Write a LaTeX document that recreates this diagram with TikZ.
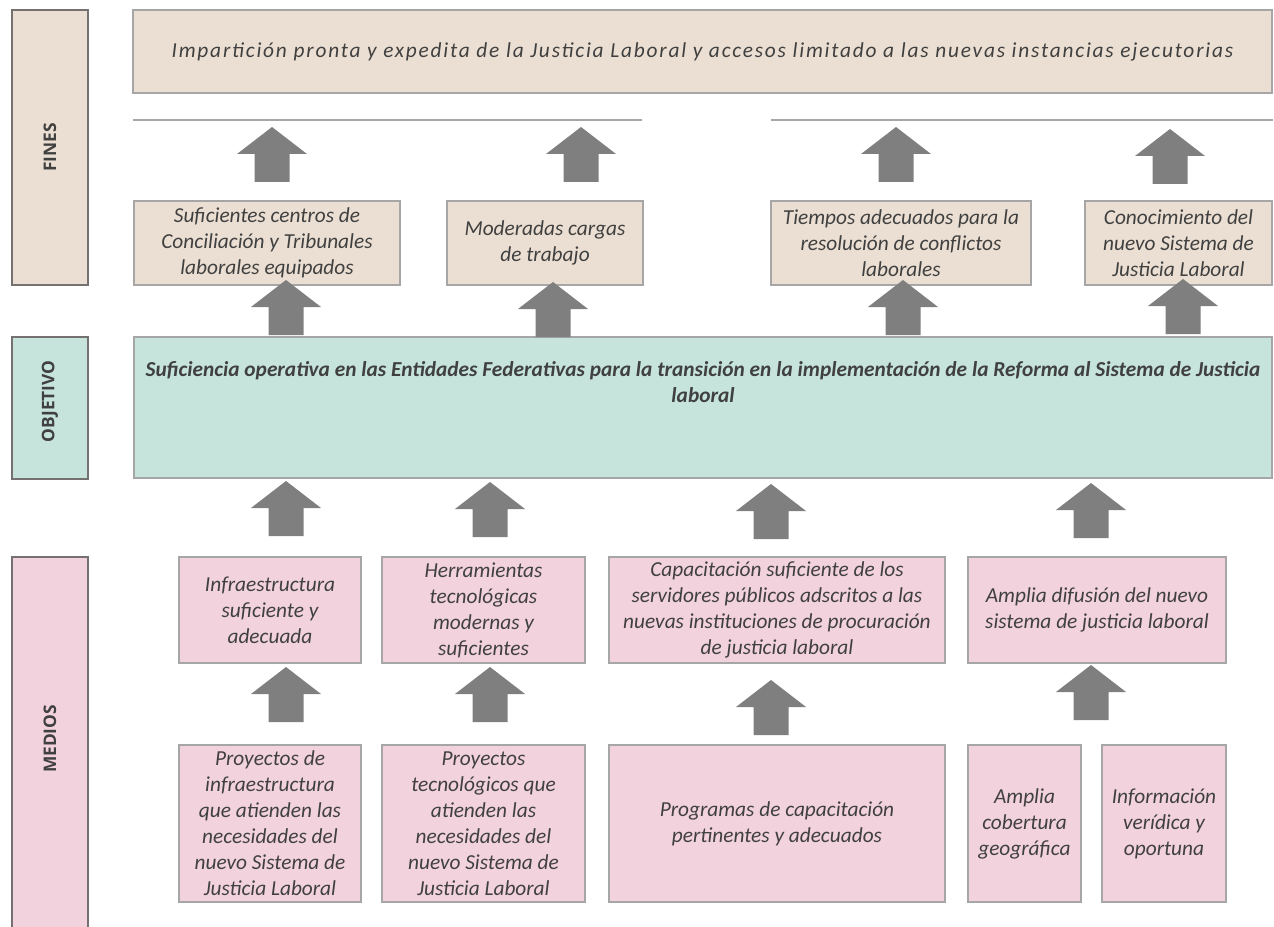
\documentclass[tikz,border=0pt]{standalone}
\usepackage{fontspec}
\usepackage{graphicx}
\setmainfont{Carlito}
\newfontfamily\labfont{Open Sans}
\definecolor{beige}{RGB}{234,223,210}
\definecolor{mint}{RGB}{198,228,220}
\definecolor{pinkb}{RGB}{242,210,220}
\definecolor{bord}{RGB}{166,166,166}
\definecolor{labbord}{RGB}{118,113,113}
\definecolor{arrg}{RGB}{127,127,127}
\definecolor{txt}{RGB}{64,64,64}
\tikzset{
 box/.style={draw=bord, line width=1.2pt, inner sep=0pt, align=center, text=txt, font=\fontsize{16}{19.5}\selectfont\itshape},
 finbox/.style={box, fill=beige},
 objbox/.style={box, fill=mint},
 medbox/.style={box, fill=pinkb},
 plaintext/.style={inner sep=0pt, align=center, text=txt, font=\fontsize{16}{19.5}\selectfont\itshape},
 labbox/.style={draw=labbord, line width=1.5pt, inner sep=0pt, text=txt, font=\labfont\bfseries\fontsize{13}{15}\selectfont},
 sepline/.style={draw=bord, line width=1.2pt},
 pics/uparrow/.style={code={\fill[arrg] (0,0) -- (35,27) -- (17.5,27) -- (17.5,55) -- (-17.5,55) -- (-17.5,27) -- (-35,27) -- cycle;}}
}
\begin{document}
\begin{tikzpicture}[x=0.75pt,y=-0.75pt]
\useasboundingbox (0,0) rectangle (1274,927);
% side labels
\node[labbox, fill=beige, minimum width=76*0.75pt, minimum height=275*0.75pt] (fines) at (50,147.5) {\rotatebox{90}{FINES}};
\node[labbox, fill=mint, minimum width=76*0.75pt, minimum height=142*0.75pt] (objl) at (50,408) {\rotatebox{90}{\hspace{10pt}OBJETIVO}};
\node[labbox, fill=pinkb, minimum width=76*0.75pt, minimum height=376*0.75pt] (medl) at (50,745) {\rotatebox{90}{\hspace{9pt}MEDIOS}};
% top box
\node[finbox, minimum width=1139*0.75pt, minimum height=83*0.75pt] (fin) at (702.5,51.5) {\addfontfeature{LetterSpace=8.5}Impartición pronta y expedita de la Justicia Laboral y accesos limitado a las nuevas instancias ejecutorias};
% separator lines
\coordinate (l1a) at (133,120); \coordinate (l1b) at (642,120);
\coordinate (l2a) at (771,120); \coordinate (l2b) at (1273,120);
\draw[sepline] (l1a) -- (l1b);
\draw[sepline] (l2a) -- (l2b);
% fines boxes
\node[finbox, minimum width=266*0.75pt, minimum height=84*0.75pt] (fa) at (267,243) {Suficientes centros de\\Conciliación y Tribunales\\laborales equipados};
\node[finbox, minimum width=196*0.75pt, minimum height=84*0.75pt] (fb) at (545,243) {Moderadas cargas\\de trabajo};
\node[finbox, minimum width=260*0.75pt, minimum height=84*0.75pt] (fc) at (901,243) {Tiempos adecuados para la\\resolución de conflictos\\laborales};
\node[finbox, minimum width=187*0.75pt, minimum height=84*0.75pt] (fd) at (1178.5,243) {Conocimiento del\\nuevo Sistema de\\Justicia Laboral};
% objective
\node[objbox, minimum width=1138*0.75pt, minimum height=141*0.75pt] (obj) at (703,407.5) {};
\node[plaintext, font=\fontsize{16}{19.5}\selectfont\bfseries\itshape] (objt) at (703,382) {Suficiencia operativa en las Entidades Federativas para la transición en la implementación de la Reforma al Sistema de Justicia\\laboral};
% medios row 1
\node[medbox, minimum width=182*0.75pt, minimum height=106*0.75pt] (m1) at (270,610) {Infraestructura\\suficiente y\\adecuada};
\node[medbox, minimum width=203*0.75pt, minimum height=106*0.75pt] (m2) at (483.5,610) {Herramientas\\tecnológicas\\modernas y\\suficientes};
\node[medbox, minimum width=336*0.75pt, minimum height=106*0.75pt] (m3) at (777,610) {Capacitación suficiente de los\\servidores públicos adscritos a las\\nuevas instituciones de procuración\\de justicia laboral};
\node[medbox, minimum width=258*0.75pt, minimum height=106*0.75pt] (m4) at (1097,610) {Amplia difusión del nuevo\\sistema de justicia laboral};
% medios row 2
\node[medbox, minimum width=182*0.75pt, minimum height=157*0.75pt] (p1) at (270,823.5) {Proyectos de\\infraestructura\\que atienden las\\necesidades del\\nuevo Sistema de\\Justicia Laboral};
\node[medbox, minimum width=203*0.75pt, minimum height=157*0.75pt] (p2) at (483.5,823.5) {Proyectos\\tecnológicos que\\atienden las\\necesidades del\\nuevo Sistema de\\Justicia Laboral};
\node[medbox, minimum width=336*0.75pt, minimum height=157*0.75pt] (p3) at (777,823.5) {Programas de capacitación\\pertinentes y adecuados};
\node[medbox, minimum width=113*0.75pt, minimum height=157*0.75pt] (p4) at (1024.5,823.5) {Amplia\\cobertura\\geográfica};
\node[medbox, minimum width=124*0.75pt, minimum height=157*0.75pt] (p5) at (1164,823.5) {Información\\verídica y\\oportuna};
% block arrows row 1 (fines boxes -> fin)
\pic (ua1) at (272,127) {uparrow};
\pic (ua2) at (581,127) {uparrow};
\pic (ua3) at (896,127) {uparrow};
\pic (ua4) at (1170,129) {uparrow};
% row 2 (objective -> fines boxes)
\pic (ub1) at (286,280) {uparrow};
\pic (ub2) at (553,282) {uparrow};
\pic (ub3) at (903,280) {uparrow};
\pic (ub4) at (1183,279) {uparrow};
% row 3 (medios -> objective)
\pic (uc1) at (286,481) {uparrow};
\pic (uc2) at (490,482) {uparrow};
\pic (uc3) at (771,484) {uparrow};
\pic (uc4) at (1091,483) {uparrow};
% row 4 (row 2 -> row 1)
\pic (ud1) at (286,667) {uparrow};
\pic (ud2) at (490,667) {uparrow};
\pic (ud3) at (771,680) {uparrow};
\pic (ud4) at (1091,665) {uparrow};
\end{tikzpicture}
\end{document}
